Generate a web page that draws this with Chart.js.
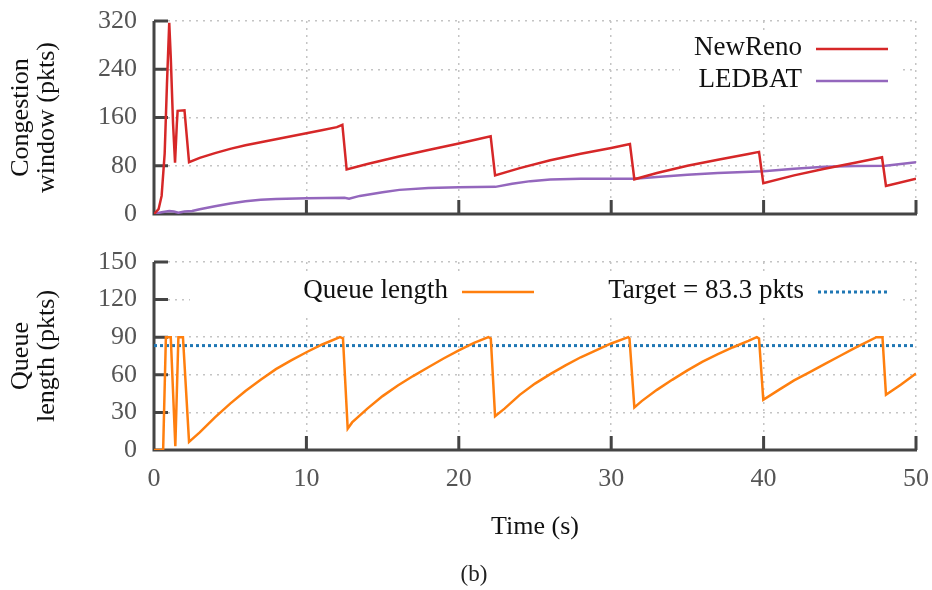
<!DOCTYPE html>
<html>
<head>
<meta charset="utf-8">
<script src="https://cdn.jsdelivr.net/npm/chart.js@4.4.1/dist/chart.umd.min.js"></script>
<style>
body { margin: 0; background: #fff; width: 932px; height: 590px; position: relative; overflow: hidden; font-family: 'Liberation Serif', serif; }
canvas { position: absolute; left: 0; }
#cwnd { top: 0; }
#queue { top: 240px; }
#caption { position: absolute; top: 561px; left: 8px; width: 932px; text-align: center; font-size: 23px; color: #222; }
</style>
</head>
<body>
<canvas id="cwnd" width="932" height="240"></canvas>
<canvas id="queue" width="932" height="350"></canvas>
<div id="caption">(b)</div>
<script>
// ===== datos =====
const xTicks = [0, 10, 20, 30, 40, 50];

const newrenoT = [0, 0.3, 0.5, 0.7, 0.85, 1.0, 1.1, 1.25, 1.38, 1.5, 1.55, 2.0, 2.3,
  3, 4, 5, 6, 7, 8, 9, 10, 11, 12, 12.36, 12.64,
  14, 16, 18, 20, 22.09, 22.38,
  24, 26, 28, 30, 31.23, 31.52,
  33, 35, 37, 39, 39.7, 39.98,
  42, 44, 46, 47.77, 48.03, 50];
const newrenoV = [0, 8, 30, 100, 215, 317, 260, 150, 85, 150, 171, 172, 86,
  93, 101, 108, 114, 119, 124, 129, 134, 139, 144, 148, 74,
  83, 95, 106, 117, 129, 64,
  76, 89, 100, 109.5, 116, 57.5,
  68, 80, 90, 99.5, 103, 51,
  64, 75, 85, 94, 46.4, 58.5];

const ledbatT = [0, 0.5, 1, 1.3, 1.6, 2, 2.5, 3, 4, 5, 6, 7, 8, 10, 12.5,
  12.8, 13.5, 15, 16.1, 18, 20, 22.4,
  23.5, 24.7, 26, 28, 31.5,
  33, 35, 37, 40, 42, 44, 46, 48, 49, 50];
const ledbatV = [0, 3, 5, 4, 2, 4, 5, 8, 13, 17.5, 21, 23.5, 25, 26, 27,
  25.5, 30, 36, 40, 43, 44.5, 45,
  50, 54.5, 57, 58.5, 58.5,
  61.5, 65, 68, 71, 75, 78.5, 79.5, 80, 83, 86];

const queueT = [0, 0.6, 0.78, 1.1, 1.4, 1.6, 1.9, 2.3,
  3, 3.5, 4, 5, 6, 7, 8, 9, 10, 11, 12.2, 12.4, 12.71,
  13, 14, 15, 16, 17, 18, 19, 20, 21, 21.94, 22.1, 22.38,
  23, 24, 25, 26, 27, 28, 29, 30, 31.12, 31.2, 31.52,
  32, 33, 34, 35, 36, 37, 38, 39, 39.55, 39.7, 39.98,
  41, 42, 43, 44, 45, 46, 47.4, 47.8, 48.03, 49, 50];
const queueV = [0, 0, 90, 90, 3, 90, 90, 6.5,
  14, 20, 26, 37, 47, 56, 64.5, 71.5, 78, 84, 90, 89, 17,
  22, 33, 43, 51.5, 59, 66, 73, 79.5, 85.5, 90, 89, 27,
  33, 44, 53, 60.5, 67.5, 74, 79.5, 85, 90, 89, 34,
  39, 48, 56, 63.5, 70.5, 76.5, 82, 87, 90, 89, 40,
  48, 55.5, 62, 68.5, 75, 81.5, 90, 90, 44, 52, 61];

const targetT = [0, 50];
const targetV = [83.3, 83.3];

// ===== utilidades =====
const SERIF = "'Liberation Serif', 'DejaVu Serif', serif";
const pts = (ts, vs) => ts.map((t, i) => ({ x: t, y: vs[i] }));

// ejes estilo gnuplot: línea izquierda/inferior y marcas hacia dentro
const axesPlugin = {
  id: 'gpAxes',
  beforeDatasetsDraw(chart) {
    const { ctx, chartArea: a, scales: { x, y } } = chart;
    ctx.save();
    ctx.strokeStyle = '#444';
    ctx.lineWidth = 3;
    ctx.beginPath();
    ctx.moveTo(a.left, a.top);
    ctx.lineTo(a.left, a.bottom);
    ctx.lineTo(a.right + 1, a.bottom);
    y.ticks.forEach(t => {
      const p = y.getPixelForValue(t.value);
      ctx.moveTo(a.left, p); ctx.lineTo(a.left + 14, p);
    });
    x.ticks.forEach(t => {
      const p = x.getPixelForValue(t.value);
      ctx.moveTo(p, a.bottom); ctx.lineTo(p, a.bottom - 14);
    });
    ctx.stroke();
    ctx.restore();
  }
};

// leyenda con fondo blanco (texto a la izquierda, muestra a la derecha)
const keyPlugin = {
  id: 'gpKey',
  beforeDatasetsDraw(chart, args, opts) {
    const { ctx } = chart;
    ctx.save();
    ctx.fillStyle = '#fff';
    const b = opts.box;
    ctx.fillRect(b[0], b[1], b[2] - b[0], b[3] - b[1]);
    ctx.font = '27px ' + SERIF;
    ctx.textAlign = 'right';
    ctx.textBaseline = 'middle';
    opts.items.forEach(it => {
      ctx.fillStyle = '#111';
      ctx.fillText(it.label, it.textRight, it.y);
      ctx.strokeStyle = it.color;
      ctx.lineWidth = it.width;
      ctx.setLineDash(it.dash || []);
      ctx.beginPath();
      ctx.moveTo(it.from, it.y + 1);
      ctx.lineTo(it.to, it.y + 1);
      ctx.stroke();
    });
    ctx.restore();
  }
};

function gridOpts() {
  return { color: '#c4c4c4', lineWidth: 1.5, drawTicks: false };
}

function baseOptions(yMax, yStep, yTitle, topPad, xHeight, showX) {
  return {
    responsive: false,
    animation: false,
    devicePixelRatio: 1,
    layout: { padding: { top: topPad, right: 16, left: 0, bottom: 0 } },
    plugins: { legend: { display: false }, tooltip: { enabled: false } },
    scales: {
      x: {
        type: 'linear', min: 0, max: 50,
        afterBuildTicks: s => { s.ticks = xTicks.map(v => ({ value: v })); },
        afterFit: s => { s.height = xHeight; s.paddingLeft = 0; s.paddingRight = 0; },
        grid: gridOpts(),
        border: { display: false, dash: [2, 5] },
        ticks: { display: showX, color: '#555', padding: 14, font: { family: SERIF, size: 26 } },
        title: {
          display: showX, text: 'Time (s)', color: '#111',
          font: { family: SERIF, size: 26 }, padding: { top: 0, bottom: 47 }
        }
      },
      y: {
        min: 0, max: yMax,
        ticks: { stepSize: yStep, color: '#555', padding: 17, font: { family: SERIF, size: 26 } },
        afterFit: s => { s.width = 154; s.paddingTop = 0; s.paddingBottom = 0; },
        grid: gridOpts(),
        border: { display: false, dash: [2, 5] },
        title: {
          display: true, text: yTitle, color: '#111',
          font: { family: SERIF, size: 26, lineHeight: 1.0 }, padding: { top: 8, bottom: 0 }
        }
      }
    }
  };
}

// ===== ventana de congestión =====
const cwndOpts = baseOptions(320, 80, ['Congestion', 'window (pkts)'], 21, 26, false);
cwndOpts.plugins.gpKey = {
  box: [680, 33, 900, 100],
  items: [
    { label: 'NewReno', textRight: 802, y: 48, from: 816, to: 888, color: '#d62728', width: 2.5 },
    { label: 'LEDBAT', textRight: 802, y: 80, from: 816, to: 888, color: '#9467bd', width: 2.5 }
  ]
};
new Chart(document.getElementById('cwnd'), {
  type: 'line',
  data: {
    datasets: [
      { label: 'NewReno', data: pts(newrenoT, newrenoV), borderColor: '#d62728', borderWidth: 2.5, pointRadius: 0, tension: 0 },
      { label: 'LEDBAT', data: pts(ledbatT, ledbatV), borderColor: '#9467bd', borderWidth: 2.5, pointRadius: 0, tension: 0 }
    ]
  },
  options: cwndOpts,
  plugins: [axesPlugin, keyPlugin]
});

// ===== longitud de cola =====
const queueOpts = baseOptions(150, 30, ['Queue', 'length (pkts)'], 22, 140, true);
queueOpts.plugins.gpKey = {
  box: [190, 32, 903, 78],
  items: [
    { label: 'Queue length', textRight: 448, y: 51, from: 462, to: 534, color: '#ff7f0e', width: 2.5 },
    { label: 'Target = 83.3 pkts', textRight: 804, y: 51, from: 818, to: 887, color: '#1f77b4', width: 3, dash: [3, 3] }
  ]
};
new Chart(document.getElementById('queue'), {
  type: 'line',
  data: {
    datasets: [
      { label: 'Queue length', data: pts(queueT, queueV), borderColor: '#ff7f0e', borderWidth: 2.5, pointRadius: 0, tension: 0 },
      { label: 'Target = 83.3 pkts', data: pts(targetT, targetV), borderColor: '#1f77b4', borderWidth: 3, borderDash: [3, 3], pointRadius: 0, tension: 0 }
    ]
  },
  options: queueOpts,
  plugins: [axesPlugin, keyPlugin]
});
</script>
</body>
</html>
